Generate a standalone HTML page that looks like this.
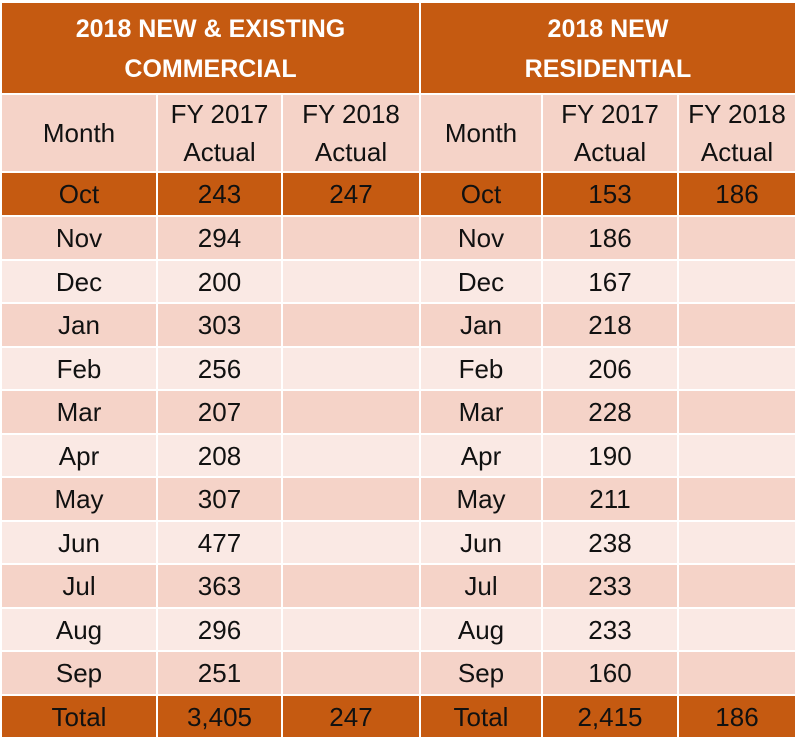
<!DOCTYPE html>
<html><head><style>
body{margin:0;width:800px;height:755px;background:#fff;overflow:hidden}
.c{position:absolute;display:flex;align-items:center;justify-content:center;text-align:center;font-family:"Liberation Sans",sans-serif;font-size:26px;color:#111;line-height:1.45;padding-top:2px;box-sizing:border-box}
.h{background:#C55A11;color:#fff;font-weight:bold;font-size:25px;line-height:1.6}
.o{background:#C55A11}
.d{background:#F5D3C8}
.l{background:#FAE9E4}
</style></head><body>
<div id="t"></div>
<script>
const L=[2,158,283,421,543,679,795];
const months=["Nov","Dec","Jan","Feb","Mar","Apr","May","Jun","Jul","Aug","Sep"];
const a=[294,200,303,256,207,208,307,477,363,296,251];
const b=[186,167,218,206,228,190,211,238,233,233,160];
let h='';
function cell(x1,x2,y1,y2,cls,txt){h+=`<div class="c ${cls}" style="left:${x1}px;top:${y1}px;width:${x2-x1-2}px;height:${y2-y1-2}px">${txt}</div>`}
cell(2,421,3,95,'h','2018 NEW &amp; EXISTING<br>COMMERCIAL');
cell(421,797,3,95,'h','2018 NEW<br>RESIDENTIAL');
const hdr=['Month','FY 2017<br>Actual','FY 2018<br>Actual'];
for(let s=0;s<2;s++)for(let i=0;i<3;i++)cell(L[s*3+i],L[s*3+i+1]+(s*3+i==5?2:0),95,173,'d',hdr[i]);
function row(y1,y2,cls,vals){for(let i=0;i<6;i++)cell(L[i],L[i+1]+(i==5?2:0),y1,y2,cls,vals[i])}
row(173,217,'o',['Oct',243,247,'Oct',153,186]);
const rh=(696-217)/11;
for(let k=0;k<11;k++){let y1=Math.round(217+k*rh),y2=Math.round(217+(k+1)*rh);row(y1,y2,k%2==0?'d':'l',[months[k],a[k],'',months[k],b[k],''])}
row(696,739,'o',['Total','3,405',247,'Total','2,415',186]);
document.getElementById('t').innerHTML=h;
</script>
</body></html>
